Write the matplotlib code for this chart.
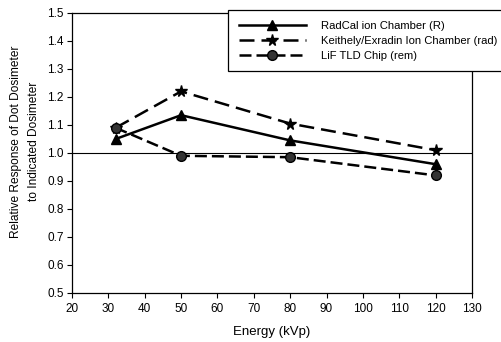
import matplotlib
matplotlib.use('Agg')
import matplotlib.pyplot as plt

plt.rcParams['font.family'] = ['Liberation Sans', 'DejaVu Sans']

# energies (kVp)
energy = [32, 50, 80, 120]

# relative response for each dosimeter
radcal = [1.05, 1.135, 1.045, 0.96]
keithley = [1.09, 1.22, 1.105, 1.01]
lif_tld = [1.09, 0.99, 0.985, 0.92]

labels = ['RadCal ion Chamber (R)',
          'Keithely/Exradin Ion Chamber (rad)',
          'LiF TLD Chip (rem)']

fig = plt.figure(figsize=(5.02, 3.42), dpi=100)
ax = fig.add_axes([0.1434, 0.1433, 0.7968, 0.8187])

ax.axhline(1.0, color='black', lw=0.8, zorder=1)

ax.plot(energy, radcal, color='black', lw=1.8, marker='^', ms=7, label=labels[0])
ax.plot(energy, keithley, color='black', lw=1.8, ls=(0, (6, 2.8)), marker='*', ms=8.5, label=labels[1])
ax.plot(energy, lif_tld, color='black', lw=1.8, ls=(0, (4.8, 2)), marker='o', ms=7,
        markerfacecolor='#333333', label=labels[2])

ax.set_xlim(20, 130)
ax.set_ylim(0.5, 1.5)
ax.set_xticks(range(20, 131, 10))
ax.set_yticks([0.5 + 0.1 * i for i in range(11)])
ax.set_yticklabels(['%.1f' % (0.5 + 0.1 * i) for i in range(11)])
ax.tick_params(direction='out', length=3.5, labelsize=8.5, width=0.8, pad=2.5)
ax.tick_params(axis='x', pad=3.5)

for s in ax.spines.values():
    s.set_linewidth(0.9)

ax.set_xlabel('Energy (kVp)', fontsize=9.5, labelpad=8)
ax.set_ylabel('Relative Response of Dot Dosimeter\nto Indicated Dosimeter', fontsize=8.6,
              linespacing=1.65)
ax.yaxis.set_label_coords(-0.08, 0.54)

leg = fig.legend(loc='upper left', bbox_to_anchor=(0.454, 0.971), fontsize=8.1,
                 frameon=True, fancybox=False, edgecolor='black', framealpha=1,
                 handlelength=6.0, borderpad=0.95, labelspacing=0.45,
                 handletextpad=1.3, borderaxespad=0)
leg.get_frame().set_linewidth(0.9)

plt.savefig('out.png', dpi=100)
